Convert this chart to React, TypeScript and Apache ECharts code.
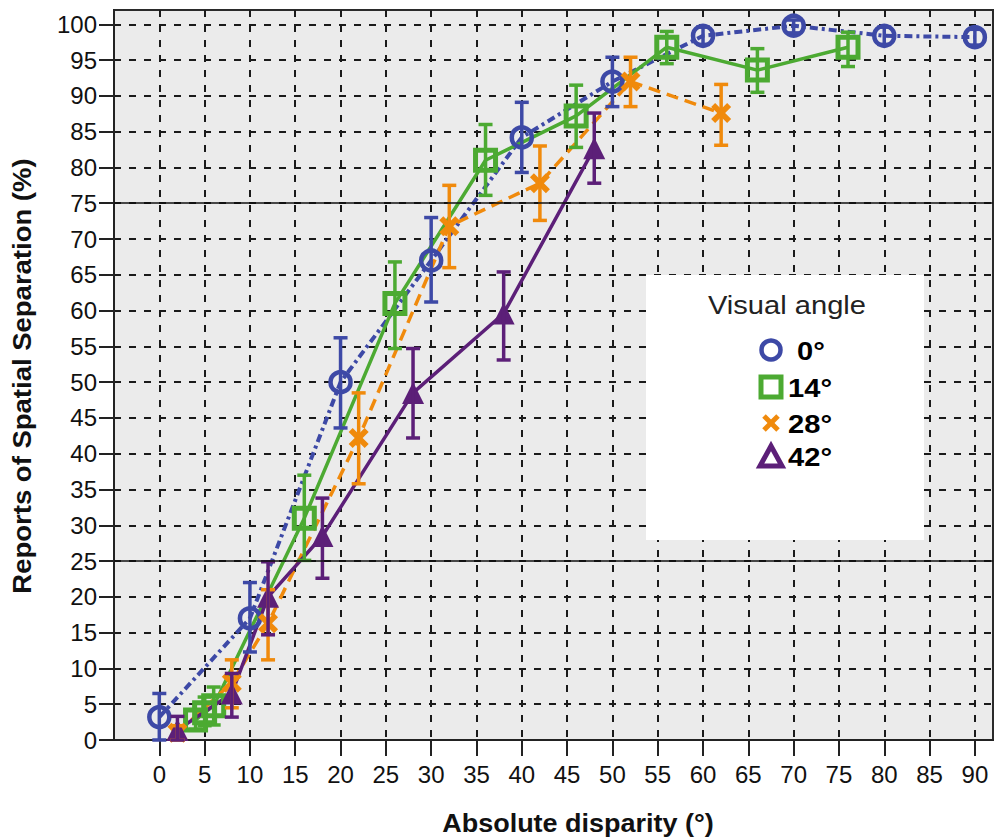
import React, { useEffect, useRef } from "react";
import * as echarts from "echarts";

// ---- data ----
const xTicks = [0, 5, 10, 15, 20, 25, 30, 35, 40, 45, 50, 55, 60, 65, 70, 75, 80, 85, 90];
const yTicks = [0, 5, 10, 15, 20, 25, 30, 35, 40, 45, 50, 55, 60, 65, 70, 75, 80, 85, 90, 95, 100];
const refLines = [25, 75];

const blueX = [0, 10, 20, 30, 40, 50, 60, 70, 80, 90];
const blueY = [3.2, 17, 50, 67, 84.2, 92, 98.4, 99.8, 98.4, 98.2];
const blueLo = [0, 12.3, 43.6, 61.2, 79.3, 88.5, 97.2, 98.8, 97.2, 97.1];
const blueHi = [6.5, 22, 56.2, 73, 89.1, 95.4, 99.6, 100.6, 99.6, 99.3];

const greenX = [4, 5, 6, 16, 26, 36, 46, 56, 66, 76];
const greenY = [2.8, 3.8, 4.8, 31, 61, 81, 87.2, 96.8, 93.6, 96.8];
const greenLo = [1.5, 2, 2.1, 25.1, 54.7, 76.1, 82.8, 94.5, 90.5, 94.1];
const greenHi = [4.2, 6, 7.4, 37, 66.8, 86, 91.5, 99, 96.6, 98.9];

const orangeX = [2, 8, 12, 22, 32, 42, 52, 62];
const orangeY = [1, 8, 16.3, 42.2, 71.8, 77.8, 92, 87.6];
const orangeLo = [0, 4.5, 11.2, 35.8, 66, 72.6, 88.5, 83.1];
const orangeHi = [2, 11.2, 21, 48.5, 77.5, 83, 95.4, 91.6];

const purpleX = [2, 8, 12, 18, 28, 38, 48];
const purpleY = [1.4, 6.5, 20, 28.5, 48.5, 59.6, 82.7];
const purpleLo = [0, 3.2, 14.7, 22.6, 42.2, 53.1, 77.8];
const purpleHi = [3.3, 9.3, 24.9, 33.8, 54.7, 65.4, 87.6];

const legendTitle = "Visual angle";
const legendNames = ["0°", "14°", "28°", "42°"];

const BLUE = "#3d49a6";
const GREEN = "#4caa32";
const ORANGE = "#f08a0c";
const PURPLE = "#5c1f78";
const FONT = "Liberation Sans, Arial, sans-serif";
const XSYM = "path://M2,0 L5,3 L8,0 L10,2 L7,5 L10,8 L8,10 L5,7 L2,10 L0,8 L3,5 L0,2 Z";

function pairs(xs: number[], ys: number[]) {
  return xs.map((x, i) => [x, ys[i]]);
}
function triples(xs: number[], lo: number[], hi: number[]) {
  return xs.map((x, i) => [x, lo[i], hi[i]]);
}

function errorSeries(xs: number[], lo: number[], hi: number[], color: string) {
  return {
    type: "custom",
    z: 4,
    silent: true,
    data: triples(xs, lo, hi),
    encode: { x: 0, y: [1, 2] },
    renderItem: (params: any, api: any) => {
      const x = api.value(0);
      const p1 = api.coord([x, api.value(1)]);
      const p2 = api.coord([x, api.value(2)]);
      const w = 7;
      const style = { stroke: color, lineWidth: 3.5 };
      return {
        type: "group",
        children: [
          { type: "line", shape: { x1: p1[0], y1: p1[1], x2: p2[0], y2: p2[1] }, style },
          { type: "line", shape: { x1: p1[0] - w, y1: p1[1], x2: p1[0] + w, y2: p1[1] }, style },
          { type: "line", shape: { x1: p2[0] - w, y1: p2[1], x2: p2[0] + w, y2: p2[1] }, style },
        ],
      };
    },
  };
}

export default function App() {
  const ref = useRef<HTMLDivElement>(null);

  useEffect(() => {
    if (!ref.current) return;
    const chart = echarts.init(ref.current, null, { renderer: "svg" });

    const lx = 771;
    const ty = [350, 387, 423, 456];
    const txtX = [797, 788, 788, 788];

    const option: any = {
      animation: false,
      backgroundColor: "#ffffff",
      grid: {
        left: 114,
        top: 10,
        right: 1,
        bottom: 98,
        show: true,
        backgroundColor: "#ebebeb",
        borderColor: "#2a2a2a",
        borderWidth: 2,
      },
      xAxis: {
        type: "value",
        min: -5,
        max: 92,
        interval: 5,
        axisLine: { show: true, onZero: false, lineStyle: { color: "#222", width: 2 } },
        axisTick: { show: true, length: 16, customValues: xTicks, lineStyle: { color: "#222", width: 2 } },
        axisLabel: {
          customValues: xTicks,
          margin: 22,
          fontSize: 24,
          fontFamily: FONT,
          color: "#111",
        },
        splitLine: { show: true, lineStyle: { color: "#1a1a1a", width: 2, type: [7, 8] } },
      },
      yAxis: {
        type: "value",
        min: 0,
        max: 102,
        interval: 5,
        axisLine: { show: true, onZero: false, lineStyle: { color: "#222", width: 2 } },
        axisTick: { show: true, length: 15, customValues: yTicks, lineStyle: { color: "#222", width: 2 } },
        axisLabel: {
          customValues: yTicks,
          margin: 17,
          fontSize: 24,
          fontFamily: FONT,
          color: "#111",
        },
        splitLine: { show: true, lineStyle: { color: "#1a1a1a", width: 2, type: [7, 8] } },
      },
      series: [
        {
          type: "line",
          name: "refs",
          data: [],
          z: 1,
          silent: true,
          markLine: {
            silent: true,
            symbol: "none",
            label: { show: false },
            lineStyle: { color: "#111", width: 1.6, type: "solid" },
            data: refLines.map((v) => ({ yAxis: v })),
          },
        },
        {
          type: "line",
          name: "0°",
          z: 3,
          data: pairs(blueX, blueY),
          symbol: "circle",
          symbolSize: 20,
          lineStyle: { color: BLUE, width: 4, type: [8, 4, 3, 4] },
          itemStyle: { color: "rgba(0,0,0,0)", borderColor: BLUE, borderWidth: 4.5 },
        },
        {
          type: "line",
          name: "14°",
          z: 3,
          data: pairs(greenX, greenY),
          symbol: "rect",
          symbolSize: 20,
          lineStyle: { color: GREEN, width: 3.5, type: "solid" },
          itemStyle: { color: "rgba(0,0,0,0)", borderColor: GREEN, borderWidth: 5 },
        },
        {
          type: "line",
          name: "28°",
          z: 3,
          data: pairs(orangeX, orangeY),
          symbol: XSYM,
          symbolSize: 20,
          lineStyle: { color: ORANGE, width: 3.5, type: [12, 7] },
          itemStyle: { color: ORANGE, borderWidth: 0 },
        },
        {
          type: "line",
          name: "42°",
          z: 3,
          data: pairs(purpleX, purpleY),
          symbol: "triangle",
          symbolSize: 22,
          lineStyle: { color: PURPLE, width: 3.5, type: "solid" },
          itemStyle: { color: PURPLE, borderWidth: 0 },
        },
        errorSeries(blueX, blueLo, blueHi, BLUE),
        errorSeries(greenX, greenLo, greenHi, GREEN),
        errorSeries(orangeX, orangeLo, orangeHi, ORANGE),
        errorSeries(purpleX, purpleLo, purpleHi, PURPLE),
      ],
      graphic: [
        {
          type: "rect",
          z: 50,
          shape: { x: 646, y: 275, width: 278, height: 265 },
          style: { fill: "#ffffff" },
        },
        {
          type: "text",
          z: 51,
          x: 787,
          y: 305,
          scaleX: 1.12,
          style: {
            text: legendTitle,
            font: `26px ${FONT}`,
            fill: "#222",
            align: "center",
            verticalAlign: "middle",
          },
        },
        {
          type: "circle",
          z: 51,
          shape: { cx: lx, cy: ty[0], r: 9.5 },
          style: { fill: "none", stroke: BLUE, lineWidth: 4.5 },
        },
        {
          type: "rect",
          z: 51,
          shape: { x: lx - 10, y: ty[1] - 10, width: 20, height: 20 },
          style: { fill: "none", stroke: GREEN, lineWidth: 5 },
        },
        {
          type: "line",
          z: 51,
          shape: { x1: lx - 7, y1: ty[2] - 7, x2: lx + 7, y2: ty[2] + 7 },
          style: { stroke: ORANGE, lineWidth: 5 },
        },
        {
          type: "line",
          z: 51,
          shape: { x1: lx - 7, y1: ty[2] + 7, x2: lx + 7, y2: ty[2] - 7 },
          style: { stroke: ORANGE, lineWidth: 5 },
        },
        {
          type: "polygon",
          z: 51,
          shape: { points: [[lx, ty[3] - 10], [lx + 11, ty[3] + 10], [lx - 11, ty[3] + 10]] },
          style: { fill: "none", stroke: PURPLE, lineWidth: 5 },
        },
        ...legendNames.map((n, i) => ({
          type: "text",
          z: 51,
          x: txtX[i],
          y: ty[i] + 1,
          scaleX: 1.12,
          style: {
            text: n,
            font: `bold 26px ${FONT}`,
            fill: "#000",
            align: "left",
            verticalAlign: "middle",
          },
        })),
        {
          type: "text",
          x: 578,
          y: 823,
          scaleX: 1.08,
          style: {
            text: "Absolute disparity (°)",
            font: `bold 25px ${FONT}`,
            fill: "#111",
            align: "center",
            verticalAlign: "middle",
          },
        },
        {
          type: "text",
          x: 22,
          y: 376,
          rotation: Math.PI / 2,
          scaleX: 1.1,
          style: {
            text: "Reports of Spatial Separation (%)",
            font: `bold 25px ${FONT}`,
            fill: "#111",
            align: "center",
            verticalAlign: "middle",
          },
        },
      ],
    };

    chart.setOption(option);
    return () => chart.dispose();
  }, []);

  return (
    <div
      ref={ref}
      style={{ position: "fixed", left: 0, top: 0, width: 994, height: 838 }}
    />
  );
}
